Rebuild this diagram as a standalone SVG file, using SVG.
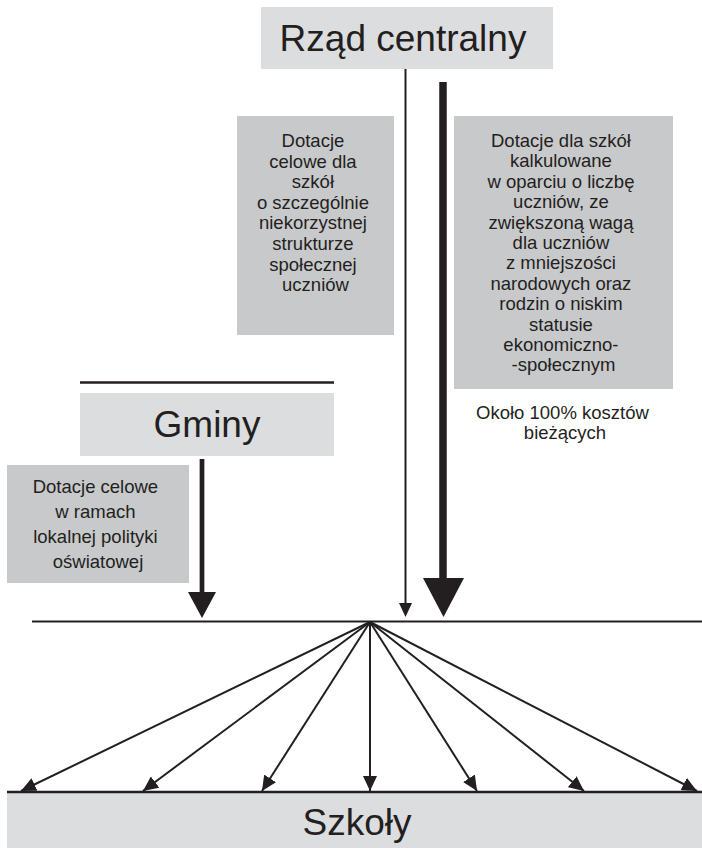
<svg xmlns="http://www.w3.org/2000/svg" width="702" height="848" viewBox="0 0 702 848">
  <style>
    .light { fill: #dcdddf; }
    .dark { fill: #c8c9cb; }
    .t { font-family: "Liberation Sans", Arial, sans-serif; fill: #231f20; text-anchor: middle; }
    .big { font-size: 37px; }
    .small { font-size: 18.5px; }
    .ln { stroke: #231f20; fill: none; }
    .head { fill: #231f20; }
  </style>
  <defs>
    <marker id="fanHead" markerUnits="userSpaceOnUse" markerWidth="16" markerHeight="14" refX="15" refY="7" orient="auto">
      <path d="M0,0 L15,7 L0,14 Z" fill="#231f20"/>
    </marker>
  </defs>
  <rect width="702" height="848" fill="#ffffff"/>

  <!-- central government -->
  <g id="rzad">
    <rect class="light" x="261" y="7" width="292" height="62"/>
    <text class="t big" x="403" y="51">Rząd centralny</text>
  </g>

  <!-- targeted grants box -->
  <g id="dotacje-celowe">
    <rect class="dark" x="237" y="116" width="157" height="219"/>
    <text class="t small">
      <tspan x="315.5" y="147">Dotacje</tspan>
      <tspan x="315.5" y="167.6">celowe dla</tspan>
      <tspan x="315.5" y="188.2">szkół</tspan>
      <tspan x="315.5" y="208.8">o szczególnie</tspan>
      <tspan x="315.5" y="229.4">niekorzystnej</tspan>
      <tspan x="315.5" y="250">strukturze</tspan>
      <tspan x="315.5" y="270.6">społecznej</tspan>
      <tspan x="315.5" y="291.2">uczniów</tspan>
    </text>
  </g>

  <!-- per-pupil grants box -->
  <g id="dotacje-uczniowie">
    <rect class="dark" x="454" y="116" width="219" height="273"/>
    <text class="t small">
      <tspan x="563.5" y="147">Dotacje dla szkół</tspan>
      <tspan x="563.5" y="167.4">kalkulowane</tspan>
      <tspan x="563.5" y="187.8">w oparciu o liczbę</tspan>
      <tspan x="563.5" y="208.2">uczniów, ze</tspan>
      <tspan x="563.5" y="228.6">zwiększoną wagą</tspan>
      <tspan x="563.5" y="249">dla uczniów</tspan>
      <tspan x="563.5" y="269.4">z mniejszości</tspan>
      <tspan x="563.5" y="289.8">narodowych oraz</tspan>
      <tspan x="563.5" y="310.2">rodzin o niskim</tspan>
      <tspan x="563.5" y="330.6">statusie</tspan>
      <tspan x="563.5" y="351">ekonomiczno-</tspan>
      <tspan x="563.5" y="371.4">-społecznym</tspan>
    </text>
  </g>

  <!-- share of running costs -->
  <g id="koszty">
    <text class="t small">
      <tspan x="565" y="419">Około 100% kosztów</tspan>
      <tspan x="565" y="439">bieżących</tspan>
    </text>
  </g>

  <!-- municipalities -->
  <g id="gminy">
    <line class="ln" x1="80" y1="382.5" x2="334" y2="382.5" stroke-width="2.5"/>
    <rect class="light" x="80" y="393" width="254" height="63"/>
    <text class="t big" x="207" y="437">Gminy</text>
  </g>

  <!-- local policy grants box -->
  <g id="dotacje-lokalne">
    <rect class="dark" x="7" y="465" width="182" height="118"/>
    <text class="t small">
      <tspan x="98" y="493">Dotacje celowe</tspan>
      <tspan x="98" y="518">w ramach</tspan>
      <tspan x="98" y="543">lokalnej polityki</tspan>
      <tspan x="98" y="568">oświatowej</tspan>
    </text>
  </g>

  <!-- schools -->
  <g id="szkoly">
    <rect class="light" x="7" y="792" width="695" height="56"/>
    <line class="ln" x1="7" y1="792" x2="702" y2="792" stroke-width="2.5"/>
    <text class="t big" x="357" y="835">Szkoły</text>
  </g>

  <!-- connectors -->
  <g id="connectors">
    <!-- pooling line -->
    <line class="ln" x1="32" y1="621.5" x2="702" y2="621.5" stroke-width="2"/>

    <!-- thin flow from central government -->
    <line class="ln" x1="405.5" y1="69" x2="405.5" y2="605" stroke-width="2"/>
    <path class="head" d="M399,603 L412,603 L405.5,617 Z"/>

    <!-- thick flow from central government -->
    <line class="ln" x1="443" y1="82" x2="443" y2="582" stroke-width="7.5"/>
    <path class="head" d="M423,578 L464,578 L443.5,617 Z"/>

    <!-- flow from municipalities -->
    <line class="ln" x1="202" y1="459" x2="202" y2="595" stroke-width="4.7"/>
    <path class="head" d="M188,592 L216,592 L202,618 Z"/>

    <!-- fan to schools -->
    <g class="ln" stroke-width="2" marker-end="url(#fanHead)">
      <line x1="370" y1="622" x2="21" y2="791"/>
      <line x1="370" y1="622" x2="143" y2="791"/>
      <line x1="370" y1="622" x2="262" y2="791"/>
      <line x1="370" y1="622" x2="370" y2="791"/>
      <line x1="370" y1="622" x2="477" y2="791"/>
      <line x1="370" y1="622" x2="584" y2="791"/>
      <line x1="370" y1="622" x2="697" y2="791"/>
    </g>
  </g>
</svg>
